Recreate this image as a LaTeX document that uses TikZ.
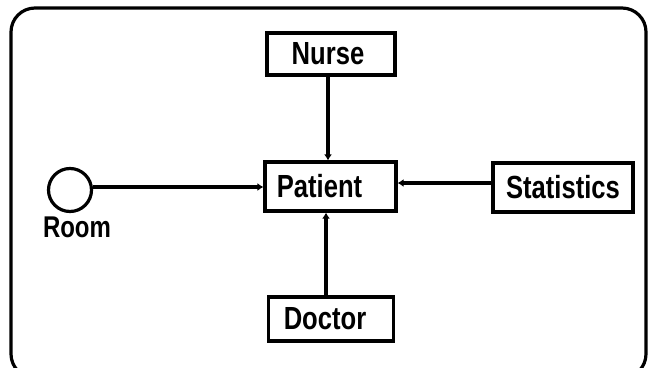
\documentclass[tikz,border=0pt]{standalone}
\usepackage{fontspec}
\setmainfont{Liberation Sans}[FakeStretch=0.8]
\usetikzlibrary{arrows.meta}
\begin{document}
\begin{tikzpicture}[x=1pt,y=-1pt,
  box/.style={draw=black,line width=3.2pt,fill=white,inner sep=0pt,
    font=\fontsize{32}{34}\selectfont\bfseries,text=black},
  conn/.style={line width=3.2pt,draw=black,-{Latex[length=6pt,width=8pt]}}]
\useasboundingbox (0,0) rectangle (652,367);
\fill[white] (0,0) rectangle (652,367);
\draw[line width=3.2pt,rounded corners=24pt] (11,8) rectangle (646,378);
\node[box,minimum width=128pt,minimum height=42pt] (nurse) at (331,54) {Nurse\kern6pt};
\node[box,minimum width=131pt,minimum height=49pt] (patient) at (330.5,186.5) {Patient\kern22pt};
\node[box,minimum width=140pt,minimum height=49pt] (stat) at (563,187.5) {Statistics};
\node[box,minimum width=125pt,minimum height=44pt] (doctor) at (331,319) {Doctor\kern12pt};
\node[circle,draw=black,line width=3.2pt,minimum size=43pt,inner sep=0pt] (room) at (70,190) {};
\node[font=\fontsize{30}{32}\selectfont\bfseries,inner sep=0pt] (roomlbl) at (77,227) {Room};
\draw[conn] (room.east |- 0,187) -- (patient.west |- 0,187);
\draw[conn] (stat.west |- 0,183) -- (patient.east |- 0,183);
\draw[conn] ([xshift=-3pt]nurse.south) -- ([xshift=-2.5pt]patient.north);
\draw[conn] ([xshift=-5pt]doctor.north) -- ([xshift=-4.5pt]patient.south);
\end{tikzpicture}
\end{document}
